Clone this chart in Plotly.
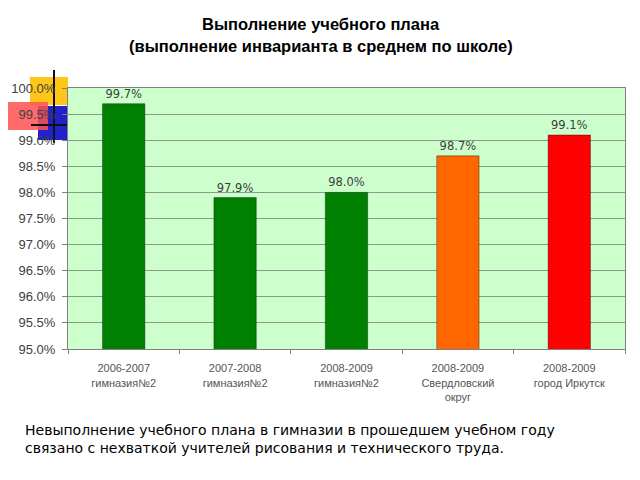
import plotly.graph_objects as go

categories = [
    "2006-2007<br>гимназия№2",
    "2007-2008<br>гимназия№2",
    "2008-2009<br>гимназия№2",
    "2008-2009<br>Свердловский<br>округ",
    "2008-2009<br>город Иркутск",
]
values = [99.7, 97.9, 98.0, 98.7, 99.1]
bar_colors = ["#008000", "#008000", "#008000", "#ff6600", "#ff0000"]
y_ticks = [95.0, 95.5, 96.0, 96.5, 97.0, 97.5, 98.0, 98.5, 99.0, 99.5, 100.0]

fig = go.Figure()
fig.add_trace(go.Bar(
    x=categories,
    y=values,
    marker=dict(color=bar_colors, line=dict(color="rgba(0,0,0,0.35)", width=1)),
    text=[f"{v:.1f}%" for v in values],
    textposition="outside",
    textfont=dict(family="DejaVu Sans", size=11.5, color="#404040"),
    cliponaxis=False,
    width=0.38,
))

fig.update_layout(
    width=640, height=480,
    margin=dict(l=68, r=15, t=88, b=131),
    paper_bgcolor="white",
    plot_bgcolor="#ccffcc",
    showlegend=False,
    bargap=0.62,
    xaxis=dict(
        type="category",
        automargin=False,
        showline=True, linecolor="#808080", linewidth=1, mirror=True,
        ticks="outside", tickson="boundaries", ticklen=4, tickcolor="#808080",
        ticklabelstandoff=9,
        tickfont=dict(family="Liberation Sans", size=11, color="#555555"),
        showgrid=False,
    ),
    yaxis=dict(
        range=[95.0, 100.0],
        automargin=False,
        tickvals=y_ticks,
        ticktext=[f"{v:.1f}%" for v in y_ticks],
        showline=True, linecolor="#808080", linewidth=1, mirror=True,
        ticks="outside", ticklen=5, tickcolor="#808080",
        ticklabelstandoff=4,
        gridcolor="#8a9a8a", gridwidth=1,
        tickfont=dict(family="Liberation Sans", size=13, color="#404040"),
        zeroline=False,
    ),
)

def fx(x):
    return (x - 68) / 557.0

def fy(y):
    return (349 - y) / 261.0

shapes = [
    dict(type="rect", xref="paper", yref="paper", x0=fx(30), x1=fx(68), y0=fy(105), y1=fy(77),
         fillcolor="#ffc000", line=dict(width=0), layer="below", opacity=0.9),
    dict(type="rect", xref="paper", yref="paper", x0=fx(38), x1=fx(68), y0=fy(140), y1=fy(106),
         fillcolor="#2222cc", line=dict(width=0), layer="below"),
    dict(type="rect", xref="paper", yref="paper", x0=fx(8), x1=fx(48), y0=fy(130), y1=fy(102),
         fillcolor="#ff5050", line=dict(width=0), layer="below", opacity=0.85),
    dict(type="line", xref="paper", yref="paper", x0=fx(54), x1=fx(54), y0=fy(143), y1=fy(70),
         line=dict(color="#111111", width=2), layer="below"),
    dict(type="line", xref="paper", yref="paper", x0=fx(31), x1=fx(68), y0=fy(125), y1=fy(125),
         line=dict(color="#111111", width=2), layer="below"),
]
fig.update_layout(shapes=shapes)

titles = [
    ("Выполнение учебного плана", 24),
    ("(выполнение инварианта в среднем по школе)", 46),
]
for text, yy in titles:
    fig.add_annotation(
        text=f"<b>{text}</b>", xref="paper", yref="paper",
        x=fx(321), y=fy(yy),
        showarrow=False, xanchor="center", yanchor="middle",
        font=dict(family="Liberation Sans", size=16.5, color="#000000"),
    )

fig.add_annotation(
    text="Невыполнение учебного плана в гимназии в прошедшем учебном году<br>связано с нехваткой учителей рисования и технического труда.",
    xref="paper", yref="paper",
    x=fx(23), y=fy(439),
    showarrow=False, xanchor="left", yanchor="middle", align="left",
    font=dict(family="DejaVu Sans", size=14, color="#000000"),
)

fig.write_html("out.html")
